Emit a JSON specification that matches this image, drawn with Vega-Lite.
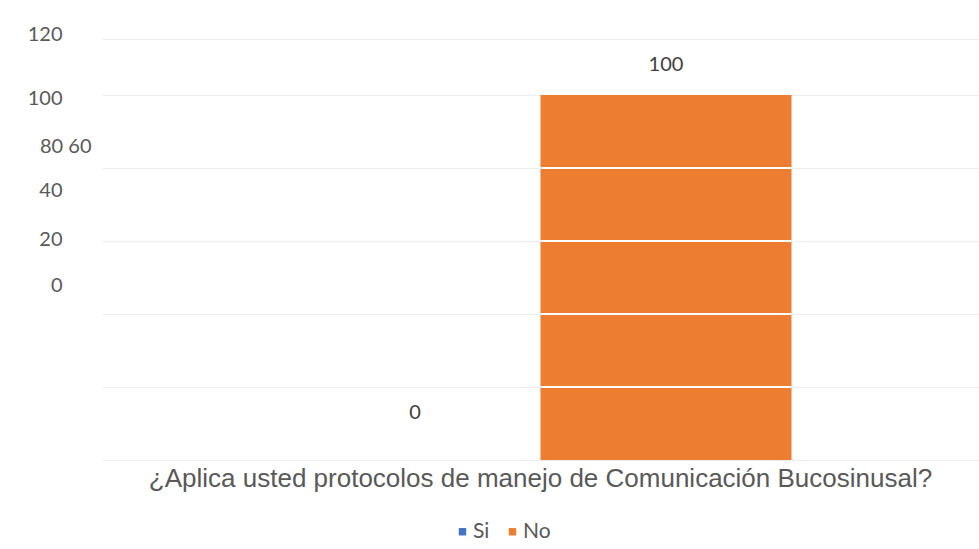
{
  "$schema": "https://vega.github.io/schema/vega-lite/v6.json",
  "width": 877,
  "height": 438,
  "autosize": {"type": "none"},
  "padding": {"left": 102, "top": 22, "right": 0, "bottom": 89},
  "background": "white",
  "config": {"view": {"stroke": null}, "font": "Lato"},
  "datasets": {
    "respuestas": [
      {"pregunta": "¿Aplica usted protocolos de manejo de Comunicación Bucosinusal?", "respuesta": "Si", "valor": 0},
      {"pregunta": "¿Aplica usted protocolos de manejo de Comunicación Bucosinusal?", "respuesta": "No", "valor": 100}
    ],
    "lineas": [
      {"pregunta": "¿Aplica usted protocolos de manejo de Comunicación Bucosinusal?", "respuesta": "No", "valor": 20},
      {"pregunta": "¿Aplica usted protocolos de manejo de Comunicación Bucosinusal?", "respuesta": "No", "valor": 40},
      {"pregunta": "¿Aplica usted protocolos de manejo de Comunicación Bucosinusal?", "respuesta": "No", "valor": 60},
      {"pregunta": "¿Aplica usted protocolos de manejo de Comunicación Bucosinusal?", "respuesta": "No", "valor": 80}
    ]
  },
  "layer": [
    {
      "data": {"name": "respuestas"},
      "mark": {"type": "bar"},
      "encoding": {
        "x": {
          "field": "pregunta", "type": "nominal",
          "scale": {"paddingInner": 0, "paddingOuter": 0.3735},
          "axis": {
            "title": null, "domain": false, "ticks": false, "labelAngle": 0,
            "labelFont": "Liberation Sans", "labelFontSize": 26, "labelColor": "#595959",
            "labelLimit": 1200, "labelPadding": 5, "labelBaseline": "top"
          }
        },
        "xOffset": {
          "field": "respuesta", "type": "nominal",
          "scale": {"domain": ["Si", "No"], "paddingInner": 0, "paddingOuter": 0}
        },
        "y": {
          "field": "valor", "type": "quantitative",
          "scale": {"domain": [0, 120], "nice": false},
          "axis": {
            "title": null, "domain": false, "ticks": false, "tickSize": 0, "tickCount": 40,
            "values": [0, 20, 40, 60, 80, 100, 115.3, 116.7, 99, 86, 73.7, 60.5, 47.9],
            "grid": true, "gridColor": "#ececec",
            "gridOpacity": {"condition": {"test": "indexof([0, 20, 40, 60, 80, 100, 115.3], datum.value) >= 0", "value": 1}, "value": 0},
            "labelExpr": "datum.value == 116.7 ? '120' : datum.value == 99 ? '100' : datum.value == 86 ? '80 60' : datum.value == 73.7 ? '40' : datum.value == 60.5 ? '20' : datum.value == 47.9 ? '0' : ''",
            "labelPadding": {"condition": {"test": "datum.value == 86", "value": 11}, "value": 40},
            "labelFontSize": 20, "labelColor": "#595959", "labelFont": "Lato",
            "labelOverlap": false, "labelFlush": false
          }
        },
        "color": {
          "field": "respuesta", "type": "nominal",
          "scale": {"domain": ["Si", "No"], "range": ["#4472c4", "#ed7d31"]},
          "legend": {
            "orient": "none", "legendX": 350, "legendY": 499,
            "direction": "horizontal", "title": null,
            "symbolType": "square", "symbolSize": 55, "symbolStrokeWidth": 0,
            "labelFontSize": 21, "labelColor": "#595959", "labelFont": "Lato",
            "columnPadding": 12, "labelOffset": 0
          }
        }
      }
    },
    {
      "data": {"name": "lineas"},
      "mark": {"type": "bar", "fill": "white", "stroke": "white", "strokeWidth": 2},
      "encoding": {
        "x": {"field": "pregunta", "type": "nominal"},
        "xOffset": {"field": "respuesta", "type": "nominal"},
        "y": {"field": "valor", "type": "quantitative"},
        "y2": {"field": "valor"}
      }
    },
    {
      "data": {"name": "respuestas"},
      "mark": {"type": "text", "fontSize": 20, "color": "#404040", "font": "Lato", "baseline": "middle", "dy": {"expr": "datum.valor == 0 ? -47 : -30"}},
      "encoding": {
        "x": {"field": "pregunta", "type": "nominal"},
        "xOffset": {"field": "respuesta", "type": "nominal"},
        "y": {"field": "valor", "type": "quantitative"},
        "text": {"field": "valor", "type": "quantitative"}
      }
    }
  ]
}
